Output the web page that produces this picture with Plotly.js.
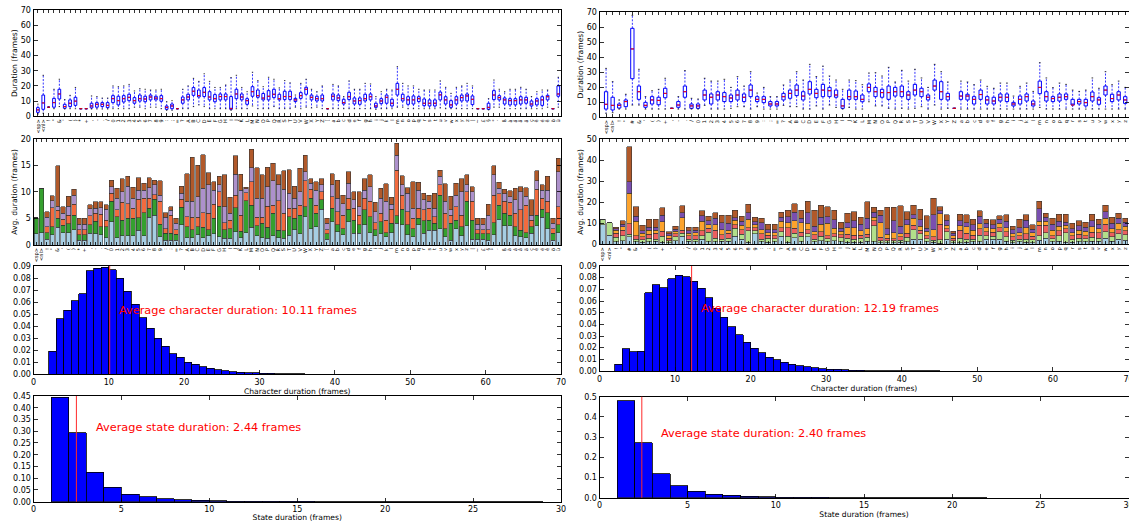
<!DOCTYPE html>
<html><head><meta charset="utf-8">
<script src="https://cdn.plot.ly/plotly-3.0.1.min.js"></script>
<style>html,body{margin:0;padding:0;overflow:hidden;background:#fff}#chart{width:1129px;height:522px}</style>
</head><body><div id="chart"></div>
<script>
// ---------- LEFT column data ----------
const leftLabels = ["<sp>","<nl>","!","\"","&","'","(",")","*","+",",","-",".","/","0","1","2","3","4","5","6","7","8","9",":",";","=","?","A","B","C","D","E","F","G","H","I","J","K","L","M","N","O","P","Q","R","S","T","U","V","W","X","Y","Z","[","a","b","c","d","e","f","g","h","i","j","k","l","m","n","o","p","q","r","s","t","u","v","w","x","y","z","|","~","£","§","°","´","ß","à","á","â","ä","ç","è","é","ê","ö","ü"];
const leftLo  = [1.5,2,6,5,6.4,4.8,5,5,5,5, 4.8,4.8,4.8,4.8,5,5,5,5,6,6, 5,6,6,5,4,4,5,5,5,6.4, 7.5,6.4,5,5,5,5,4,5,5,5, 6.8,5,5,5,6.4,5,5,5,6,5, 6,5.5,6,5,5,5,5,5,5,5, 5,5,5,4.6,5,5,5,6,6,5, 5,5,5,5,5,5.5,5,5,5,5, 5,5,5,5,4.2,6,6,5,5,5, 5,5,5,5,5,6,5,6];
const leftQ1  = [2.6,4.6,6,6,11.4,5.3,6.4,7.2,5,5, 5.5,6,6.4,5.7,9,7.5,9.4,10.3,8.6,10, 9.6,10.8,10.8,9.9,4.6,5,5,8.6,10.8,13.8, 12.7,13,10.8,9.6,10.8,10.8,4.6,11.6,10.8,7.9, 13.2,12.5,10.8,10.8,12.3,10.8,11,11,9.7,11.8, 14.5,10.8,10.1,10.1,5,10.8,10.3,8.1,11,8.1, 7.9,10.1,10.8,5.9,8.3,8.6,6.8,14,10.1,7.9, 8.1,9.7,7,6.8,6.8,10.8,8.1,5.9,8.1,10.1, 10.1,7.7,5,5,4.6,11,10.8,8.1,7.5,7.5, 8.1,8.6,6.8,7.5,7.2,10.8,5,13.2];
const leftMed = [4.2,8.8,6,9,14.7,6.4,8.6,10,5,5, 6.8,7.9,7.9,7.2,11.6,10.3,11.6,12.5,10.3,11.6, 11.4,12.7,12,11.6,5.9,6.8,5,10.8,12.7,16.5, 13.6,15.8,12.7,11.6,13,13,5,14.7,12.7,10.3, 16.2,13.6,12,13.2,14.5,11.6,13,13,10.8,13.6, 17.8,12.5,11.6,11.6,5,13.2,12.1,9,12.9,10.1, 10.3,11.6,12.9,6.8,10.1,12.5,8.6,17.8,11.6,10.8, 10.8,11.6,8.6,8.6,8.6,14.1,10.8,7.5,10.8,12.3, 13.4,11.2,5,5,5.9,14,12.3,10.8,10.3,10.3, 10.8,10.8,8.1,10.1,10.8,12.9,5,14.7];
const leftQ3  = [5.7,14,6,11.8,17.8,7.9,10.8,12.5,5,5, 8.6,9,9,9,13.6,13.2,13.6,14.5,12.3,14, 13.2,14,13.2,13.6,6.8,8.1,5,12.7,14.5,18.9, 17.3,18.9,16.2,14.3,14.7,14.7,13,17.8,14.7,11.6, 19.5,17.3,15,16.9,17.8,14.5,16.5,16.5,11.8,15.6, 19.1,14,13.2,14,5,14.7,14,11.2,15.8,12.1, 12.1,14.5,14.7,8.6,11.6,14,11.2,21.7,14.5,12.9, 13.4,12.9,11.4,10.8,10.8,16,12.9,10.3,12.9,14, 14.7,13.4,5,5,8.6,16.9,13.6,12.1,11.6,11.6, 12.9,12.5,10.1,11.6,12.9,13.8,5,20];
const leftHi  = [8,27,6,17.8,24.4,11,13.8,19,5,5, 13.4,13,12,12,20,19.5,20,21,16.7,18.2, 17.8,17.3,17.3,17.8,9.6,10.3,5,17.8,20,25, 23,28,23,19,19,20.6,25.5,27,19,16.2, 29,23.5,19.5,25.7,24.4,18.7,23.5,22,14,21.7, 24.4,17.8,16.2,20,5,21,20,13,23.3,17.8, 17.8,21.7,21.3,13,16.2,17.8,17.3,32.7,21.7,20, 20,17.8,17.3,17.3,17.3,23.3,19.1,15.1,19.1,20, 21.7,20,5,5,11.6,23.9,17.8,16.2,17.8,17.8, 19.1,17.8,13,16.2,17.3,17.3,5,25.7];

const leftState1 = [2.1,2.3,1.1,1.9,3.3,2.3,2.3,2.9,0.9,0.9, 2.2,2.1,1.9,1.4,4.4,1.4,1.7,1.7,1.7,2.8, 1.7,5.2,5.6,1.6,0.9,0.9,0.9,3.8,1.4,1.4, 1.9,1.4,1.7,2.1,1.6,1.3,1.3,2.5,1.4,2.3, 3.3,1.7,1.4,1.3,1.7,1.4,1.3,1.8,2.9,2.1, 5.3,3.1,3.4,6.7,1.1,4.4,2.5,1.9,4.4,2.2, 2.2,3.8,2.3,1.7,2.1,1.6,2.3,4.1,3.8,1.9, 1.6,3.8,2.2,2.8,2.8,3.1,1.6,0.9,3.1,1.7, 3.6,1.1,1.1,1.1,0.9,1.9,4.8,3.6,3.6,1.7, 1.6,1.4,2.2,3.6,5.2,3.1,0.9,2.3];
const leftState2 = [3.0,8.3,1.2,1.5,1.7,1.4,1.7,2.7,1.0,1.0, 1.6,2.4,1.5,2.0,3.8,3.9,3.0,3.3,3.3,2.3, 4.4,1.7,3.0,2.3,1.3,1.3,1.1,3.3,2.0,1.5, 1.5,1.9,1.2,2.9,5.7,1.6,1.8,4.5,1.2,6.0, 4.2,1.9,2.7,2.0,4.3,1.4,1.4,3.5,2.1,3.5, 1.9,5.7,2.6,1.8,1.0,2.5,1.3,1.2,2.3,2.5, 1.6,2.8,3.0,1.2,2.3,0.7,1.8,1.4,2.9,1.9, 1.5,1.2,2.4,1.9,1.3,6.3,1.5,3.2,1.6,1.7, 4.6,3.6,1.0,1.0,1.2,2.3,2.7,2.4,2.0,1.7, 1.2,0.9,1.2,2.0,1.5,3.0,1.3,1.5];
const leftState3 = [0,0,1.1,3.6,1.5,1.1,1.6,2.1,1.0,1.0, 1.7,1.5,2.4,1.3,1.5,1.3,3.3,2.8,1.9,3.5, 2.7,1.9,0.9,4.3,0.9,3.4,0.9,1.5,1.9,2.3, 1.8,2.8,3.1,2.7,2.7,1.3,1.6,2.4,3.0,1.5, 4.4,1.6,1.1,4.0,1.5,5.5,3.3,1.6,1.9,1.9, 4.9,1.7,1.5,1.5,0.8,2.2,2.5,2.5,2.1,2.2, 1.8,2.2,2.9,1.3,1.6,2.4,2.6,8.6,2.7,2.5, 1.9,1.9,2.0,2.2,1.2,1.9,2.9,1.5,2.5,2.2, 1.8,3.5,0.8,0.8,0.8,5.2,2.1,2.2,2.4,2.6, 3.8,5.2,1.3,4.9,2.1,2.1,0.9,3.4];
const leftState4 = [0,0,1.8,1.3,0.8,1.2,1.7,1.7,1.0,1.0, 1.3,0.9,1.2,2.0,1.3,2.2,2.0,3.3,1.9,1.7, 1.5,2.0,1.8,1.2,2.1,0.9,1.2,1.1,2.9,3.0, 3.9,4.6,5.3,2.6,1.3,3.0,1.3,3.9,4.7,0.8, 2.6,3.6,3.6,3.7,4.6,3.0,4.5,2.8,1.9,2.5, 1.7,1.1,2.8,1.3,1.2,2.2,2.5,2.2,2.8,1.6, 1.6,1.5,2.8,2.1,2.8,3.5,1.0,2.8,1.9,3.4, 1.9,3.4,1.9,1.3,1.6,1.6,2.2,1.0,2.2,4.4, 1.3,1.8,1.0,1.0,2.7,3.8,1.1,1.4,1.1,2.5, 3.4,1.7,0.9,1.6,1.5,2.1,1.0,6.6];
const leftState5 = [0,0,1.1,1.0,7.6,1.2,1.9,1.1,1.1,1.1, 0.8,1.2,1.1,0.9,1.2,1.9,2.5,1.8,2.1,2.4, 1.3,1.9,0.9,2.7,0.9,0.7,0.9,1.4,5.2,8.3, 5.9,6.3,2.3,1.6,1.6,6.0,3.0,3.5,3.0,0.3, 3.5,5.7,4.4,3.6,3.3,1.9,3.5,4.5,2.3,4.4, 3.1,0.9,1.6,1.2,0.9,2.1,3.4,1.6,2.2,1.5, 2.8,2.2,2.2,1.7,1.9,3.3,1.3,2.2,1.7,1.1, 5.0,1.5,1.2,1.2,2.8,1.2,3.3,2.6,2.2,2.5, 1.9,1.0,1.1,1.1,2.1,1.7,1.1,0.9,1.1,2.2, 1.0,1.6,2.9,1.9,1.0,2.6,0.9,2.5];

const leftCharBins = [2,3,4,5,6,7,8,9,10,11,12,13,14,15,16,17,18,19,20,21,22,23,24,25,26,27,28,29,30,31,32,33,34,35];
const leftCharVals = [0.019,0.046,0.053,0.061,0.067,0.086,0.088,0.089,0.087,0.080,0.069,0.058,0.047,0.038,0.030,0.023,0.017,0.014,0.010,0.008,0.006,0.0047,0.0035,0.0028,0.002,0.0015,0.0011,0.0009,0.0007,0.0005,0.0003,0.0002,0.0002,0.0001];
const leftAvgChar = 10.11;
const leftStateBins = [1,2,3,4,5,6,7,8,9,10,11,12,13,14,15,16,17,18,19,20,21,22,23,24,25,26,27,28];
const leftStateVals = [0.445,0.293,0.125,0.062,0.032,0.021,0.012,0.009,0.0065,0.005,0.003,0.0022,0.0017,0.0012,0.001,0.0008,0.0006,0.0005,0.0004,0.0003,0.0003,0.0002,0.0002,0.0001,0.00005,0.00005,0.00005,0.00005];
const leftAvgState = 2.44;

// ---------- RIGHT column data ----------
const rightLabels = ["<sp>","<nl>","!","\"","#","&","'","(",")","+",",","-",".","/","0","1","2","3","4","5","6","7","8","9",":",";","=","?","A","B","C","D","E","F","G","H","I","J","K","L","M","N","O","P","Q","R","S","T","U","V","W","X","Y","Z","a","b","c","d","e","f","g","h","i","j","k","l","m","n","o","p","q","r","s","t","u","v","w","x","y","z"];
const rightLo  = [2.5,2.9,5.3,5.3,8,8,5.3,5.3,5.3,5.3, 5.8,5.3,5.3,5.3,5.3,7.8,5.3,5.3,5.3,5.8, 6.9,6.9,5.3,6.9,5.3,5.3,5.3,7.8,6.9,6.9, 5.3,5.3,7.4,5.3,8,6.4,5.3,6.4,5.3,5.3, 10.2,7.4,7.4,5.8,5.3,5.8,5.3,5.8,6.9,5.3, 8,5.3,5.8,5.8,5.3,5.3,5.3,5.3,5.3,5.3, 5.3,5.3,5.3,5.3,5.3,5.3,6.4,5.3,5.3,5.3, 5.3,5.3,5.3,5.3,5.3,5.3,5.3,5.3,5.3,5.3];
const rightQ1  = [5.3,4.7,6,6.9,25.6,11.8,6.5,8.7,8.2,12.9, 5.8,6.5,13.2,5.8,5.8,11.4,8.7,11.4,10.3,10.3, 11.4,10.3,13.6,10.3,9.6,7.4,7.4,11.4,12.5,14.3, 11.4,15.4,12.9,13.6,13.6,13.2,5.8,11.8,11.8,10.2, 16.9,13.6,13.2,11.8,14,13.6,11.8,14.7,13.6,11.4, 18,11.8,11.4,5.8,11.8,11.4,8.7,11.8,8.7,8.7, 10.7,10.3,7.4,8.7,10.7,7.4,15.6,10.7,10.3,10.7, 11.8,8,8.7,7.4,10.7,8.5,14.7,10.3,11.4,9.1];
const rightMed = [8.5,7.8,7.8,10.3,45.5,16.9,7.8,11.4,11.1,15.8, 5.8,8,16.9,7.4,7.4,14.7,13.2,14.7,13.6,12.7, 14.7,13.2,18,11.8,11.8,8.7,8.7,13.6,15.8,18, 14,18.5,15.8,18,17.6,14.7,7.4,13.6,13.6,11.8, 19.8,16.9,16.3,16.3,16.9,16.9,14.7,18,16.9,13.2, 20.7,16.9,13.6,5.8,14,14,11.8,15,11.4,10.7, 13.2,13.2,8.7,11.8,13.6,8.7,19.8,13.6,12.3,13.2, 13.6,8,10.3,9.6,13.6,11.4,18,12.3,14.7,11.4];
const rightQ3  = [16.9,13.2,8.7,11.4,59.3,20.7,9.8,13.6,13.2,19.2, 5.8,10.3,20.7,8.7,8.7,18,15.4,16.9,16.3,14.7, 18,15.4,21.4,13.6,13.6,10.3,10.3,15.8,18,21.4, 16.9,23.6,18.5,21.8,19.8,18,11.8,18,17.4,14.7, 22.1,19.8,18.5,20.7,19.8,20.7,16.9,21.8,19.2,14.7, 24.7,23.6,15.8,5.8,16.9,15.2,13.6,18,13.6,13.2, 15.4,15.4,9.8,14,15.4,10.7,24,16.9,13.6,15.4, 15.4,11.8,11.8,11.8,16.7,12.9,20.7,15.2,16.9,13.6];
const rightHi  = [32.5,23.6,11.4,15.2,68,31.9,13.6,17.6,18.5,25.9, 5.8,13.6,31,12.5,12,25.9,24,24,25.2,19.8, 27,20.7,30.3,16,19.8,13.6,13.6,21.4,24.7,30.3, 24.7,35.2,27,34,27.4,24.7,18.5,24.7,24.3,21.6, 29.4,29.6,27.4,33.2,23.4,31.2,24,31.9,26.1,19.8, 35.2,30.3,23.4,5.8,24,23.4,21.6,24.7,20.5,19.2, 22.7,22.7,14,20.5,22.7,17.1,36.3,26.1,19.6,22.7, 21.8,18,17.1,18,26.1,19.2,30.3,21.6,24,19.8];

const rightState1 = [9.2,4.3,1.3,1.6,3.7,1.3,1.0,1.3,1.5,1.0, 0.8,1.8,3.8,1.5,1.3,2.5,1.3,1.3,1.5,1.5, 3.8,2.5,1.0,5.0,1.2,1.0,1.3,3.8,1.0,3.2, 1.3,3.5,1.3,1.8,1.3,1.8,1.3,1.0,1.0,1.0, 1.5,1.3,0.8,0.8,0.8,1.0,1.3,2.5,2.5,1.3, 1.0,0.6,2.5,0.8,0.8,1.0,1.3,1.3,2.5,2.5, 2.5,1.5,0.8,1.3,1.0,0.8,2.0,3.0,1.3,1.5, 1.0,1.0,1.3,1.3,1.5,1.5,3.0,1.5,2.5,2.0];
const rightState2 = [2.7,6.0,2.0,2.4,1.2,1.1,1.2,1.5,0.8,2.8, 0.8,1.9,1.5,1.0,1.2,1.5,4.5,1.5,1.0,1.3, 3.8,2.3,5.5,1.5,1.3,2.0,1.3,2.2,2.8,2.0, 2.5,1.5,1.2,2.0,1.3,1.8,1.8,1.8,1.3,1.8, 1.8,7.5,1.0,1.0,0.8,1.0,2.0,4.5,2.5,1.3, 1.0,1.5,3.5,0.8,2.0,1.3,1.0,3.0,1.5,1.3, 3.5,2.0,1.2,1.2,1.5,1.3,2.0,2.5,1.3,2.5, 4.5,1.5,1.5,1.3,1.8,1.5,3.0,2.0,2.5,2.5];
const rightState3 = [0,0,1.9,2.8,4.8,1.6,1.5,2.0,3.0,2.5, 1.2,1.4,1.3,1.5,1.5,2.5,1.8,4.0,2.0,2.5, 1.8,2.2,1.5,1.3,2.5,1.3,1.5,2.0,4.0,2.5, 2.0,2.0,2.0,2.2,1.5,1.5,1.5,2.0,2.0,1.5, 1.5,2.5,1.5,1.0,1.0,1.5,2.0,2.0,1.8,1.5, 1.5,7.5,1.5,1.2,4.0,3.0,2.0,3.0,2.0,2.0, 2.0,2.5,1.5,1.5,2.5,1.8,5.0,3.5,1.5,2.5, 2.0,1.5,2.0,1.5,2.5,2.5,3.5,2.0,2.0,2.0];
const rightState4 = [0,0,1.6,1.6,14.6,7.0,1.5,2.0,1.3,4.5, 1.2,1.0,6.0,1.3,1.4,4.5,1.8,2.5,2.5,1.3, 2.0,2.0,4.0,1.5,2.0,1.2,1.3,3.0,2.5,3.5, 4.5,3.0,1.5,3.5,6.0,2.5,1.5,3.0,3.5,2.2, 2.5,1.5,7.0,2.0,3.0,1.5,4.0,3.5,1.8,2.0, 3.5,5.0,1.5,1.2,2.0,3.0,2.5,2.5,2.0,1.5, 2.0,2.0,1.5,1.5,3.0,1.5,2.0,2.0,2.5,2.0, 1.5,1.5,2.0,2.0,2.5,2.0,3.0,2.0,3.0,2.0];
const rightState5 = [0,0,0.7,1.1,5.5,2.3,1.3,1.3,1.5,3.0, 1.0,1.0,2.5,1.2,1.2,2.5,1.8,3.2,3.2,3.5, 1.3,2.0,3.0,1.5,3.2,1.5,1.6,1.8,2.8,4.0, 2.2,5.0,2.5,3.5,3.0,4.0,1.5,2.5,3.5,3.0, 5.0,2.5,3.5,2.5,5.5,3.5,2.5,1.5,3.0,1.5, 7.0,1.3,2.5,1.2,2.5,2.0,2.5,3.5,2.0,2.0, 2.0,3.0,2.0,2.5,3.5,1.8,6.0,2.0,3.0,2.5, 1.5,2.0,2.0,2.0,3.0,2.0,3.0,2.5,2.5,2.0];
const rightState6 = [0,0,0.6,1.6,16.7,4.7,2.5,3.9,3.9,3.5, 1.0,1.6,3.2,1.6,1.5,2.4,2.1,2.5,3.7,3.8, 3.5,2.3,4.1,2.2,2.3,2.5,2.5,2.4,3.1,4.2, 3.7,5.4,7.7,5.5,4.9,4.6,3.0,4.5,4.3,3.4, 8.0,2.3,2.5,10.3,6.5,9.8,3.8,4.7,5.1,5.9, 7.9,2.0,2.5,1.1,3.1,3.7,2.6,2.6,1.9,2.3, 1.7,3.0,1.7,3.9,2.5,2.0,3.6,1.8,2.8,3.3, 3.8,2.5,2.3,2.5,3.1,2.4,3.1,2.9,2.3,1.9];

const rightCharBins = [2,3,4,5,6,7,8,9,10,11,12,13,14,15,16,17,18,19,20,21,22,23,24,25,26,27,28,29,30,31,32,33,34,35,36,37,38,39,40,41,42,43,44];
const rightCharVals = [0.006,0.019,0.0165,0.017,0.067,0.074,0.0715,0.079,0.082,0.081,0.077,0.071,0.063,0.054,0.046,0.038,0.031,0.0245,0.0195,0.0155,0.012,0.0095,0.0075,0.006,0.0045,0.0037,0.0028,0.0021,0.0017,0.0013,0.001,0.0008,0.0006,0.0004,0.0003,0.0002,0.0002,0.0001,0.0001,0.0001,0.00005,0.00005,0.00005];
const rightAvgChar = 12.19;
const rightStateBins = [1,2,3,4,5,6,7,8,9,10,11,12,13,14,15,16,17,18,19,20,21];
const rightStateVals = [0.48,0.273,0.118,0.059,0.031,0.018,0.011,0.007,0.005,0.003,0.0022,0.0015,0.001,0.0008,0.0006,0.0005,0.0004,0.0003,0.0002,0.0002,0.0001];
const rightAvgState = 2.40;

// ---------- styling ----------
const FONT = 'DejaVu Sans, sans-serif';
const W = 1129, H = 522;
const leftColors = ['#a6cee3','#35a02f','#f26b3f','#ad91cb','#b1592a'];
const rightColors = ['#a6cee3','#b2df8a','#ec5f5f','#fda32c','#7a4fb0','#b1592a'];
const esc = s => s.replace(/&/g,'&amp;').replace(/</g,'&lt;').replace(/>/g,'&gt;');
const px = (a,b) => [a/W, b/W];
const py = (top,bottom) => [1-bottom/H, 1-top/H];
const seq = n => Array.from({length:n}, (_,i)=>i+1);

function axis(dom, anchor, extra) {
  return Object.assign({
    domain: dom, anchor: anchor, showline: true, linecolor: '#000', linewidth: 1,
    mirror: 'ticks', ticks: 'inside', ticklen: 4, tickwidth: 0.8, tickcolor: '#000',
    showgrid: false, zeroline: false, fixedrange: true, ticklabeloverflow: 'allow',
    tickfont: {family: FONT, size: 8, color: '#000'}
  }, extra);
}
function ttl(t) { return {text: t, font: {family: FONT, size: 7.6, color: '#000'}, standoff: 2}; }

const traces = [];
function boxTraces(xa, ya, lo, q1, med, q3, hi) {
  const pos = seq(med.length);
  traces.push({type:'box', xaxis:xa, yaxis:ya, x:pos, q1:q1, median:med, q3:q3,
    lowerfence:q1, upperfence:q3, boxpoints:false, width:0.5, whiskerwidth:0,
    line:{color:'#0000ff', width:1}, fillcolor:'rgba(0,0,0,0)', hoverinfo:'skip', showlegend:false});
  const wx=[], wy=[], cx=[], cy=[], mx=[], my=[];
  pos.forEach((p,i)=>{
    wx.push(p,p,null,p,p,null); wy.push(q3[i],hi[i],null,q1[i],lo[i],null);
    cx.push(p-0.125,p+0.125,null,p-0.125,p+0.125,null); cy.push(hi[i],hi[i],null,lo[i],lo[i],null);
    mx.push(p-0.25,p+0.25,null); my.push(med[i],med[i],null);
  });
  traces.push({type:'scatter', mode:'lines', xaxis:xa, yaxis:ya, x:wx, y:wy,
    line:{color:'#0000ff', width:0.8, dash:'2px,1.5px'}, hoverinfo:'skip', showlegend:false});
  traces.push({type:'scatter', mode:'lines', xaxis:xa, yaxis:ya, x:cx, y:cy,
    line:{color:'#000', width:0.8}, hoverinfo:'skip', showlegend:false});
  traces.push({type:'scatter', mode:'lines', xaxis:xa, yaxis:ya, x:mx, y:my,
    line:{color:'#ff0000', width:1}, hoverinfo:'skip', showlegend:false});
}
function stackTraces(xa, ya, series, colors) {
  const pos = seq(series[0].length);
  series.forEach((s,k)=>traces.push({type:'bar', xaxis:xa, yaxis:ya, x:pos, y:s, width:0.8,
    marker:{color:colors[k], line:{color:'rgba(50,50,50,0.85)', width:0.7}}, hoverinfo:'skip', showlegend:false}));
}
function histTrace(xa, ya, bins, vals) {
  traces.push({type:'bar', xaxis:xa, yaxis:ya, x:bins, y:vals, width:1, offset:0,
    marker:{color:'#0000ff', line:{color:'#000', width:0.8}}, hoverinfo:'skip', showlegend:false});
}

boxTraces('x','y', leftLo, leftQ1, leftMed, leftQ3, leftHi);
stackTraces('x2','y2', [leftState1,leftState2,leftState3,leftState4,leftState5], leftColors);
histTrace('x3','y3', leftCharBins, leftCharVals);
histTrace('x4','y4', leftStateBins, leftStateVals);
boxTraces('x5','y5', rightLo, rightQ1, rightMed, rightQ3, rightHi);
stackTraces('x6','y6', [rightState1,rightState2,rightState3,rightState4,rightState5,rightState6], rightColors);
histTrace('x7','y7', rightCharBins, rightCharVals);
histTrace('x8','y8', rightStateBins, rightStateVals);

const LX = px(33.5, 561), RX = px(599.5, 1128.5);
const catTick = (labels) => ({tickmode:'array', tickvals: seq(labels.length), ticktext: labels.map(esc),
  tickangle:-90, ticklen:3, tickfont:{family: FONT, size: 5, color:'#000'}});

const layout = {
  width: W, height: H, margin:{l:0,r:0,t:0,b:0}, paper_bgcolor:'#fff', plot_bgcolor:'#fff',
  barmode:'stack', showlegend:false,
  xaxis:  axis(LX, 'y',  Object.assign({range:[0.18,98.5]}, catTick(leftLabels))),
  yaxis:  axis(py(10,116.3), 'x', {range:[0,70], dtick:10, title: ttl('Duration (frames)')}),
  xaxis2: axis(LX, 'y2', Object.assign({range:[0.5,98.5]}, catTick(leftLabels))),
  yaxis2: axis(py(138.7,245), 'x2', {range:[0,20], dtick:5, title: ttl('Avg. duration (frames)')}),
  xaxis3: axis(LX, 'y3', {range:[0,70], dtick:10, title: Object.assign(ttl('Character duration (frames)'),{standoff:1})}),
  yaxis3: axis(py(266,374), 'x3', {range:[0,0.09], dtick:0.01, tickformat:'.2f'}),
  xaxis4: axis(LX, 'y4', {range:[0,30], dtick:5, title: Object.assign(ttl('State duration (frames)'),{standoff:1})}),
  yaxis4: axis(py(396,501.7), 'x4', {range:[0,0.45], dtick:0.05, tickformat:'.2f'}),
  xaxis5: axis(RX, 'y5', Object.assign({range:[0,80.5]}, catTick(rightLabels))),
  yaxis5: axis(py(12.3,117), 'x5', {range:[0,70], dtick:10, title: ttl('Duration (frames)')}),
  xaxis6: axis(RX, 'y6', Object.assign({range:[0.5,80.5]}, catTick(rightLabels))),
  yaxis6: axis(py(139.3,244.3), 'x6', {range:[0,50], dtick:10, title: ttl('Avg. duration (frames)')}),
  xaxis7: axis(RX, 'y7', {range:[0,70], dtick:10, title: Object.assign(ttl('Character duration (frames)'),{standoff:1})}),
  yaxis7: axis(py(266,371), 'x7', {range:[0,0.09], dtick:0.01, tickformat:'.2f'}),
  xaxis8: axis(RX, 'y8', {range:[0,30], dtick:5, title: Object.assign(ttl('State duration (frames)'),{standoff:1})}),
  yaxis8: axis(py(396.7,497.7), 'x8', {range:[0,0.5], dtick:0.1, tickformat:'.1f'}),
  shapes: [], annotations: []
};

function avgMarker(xa, ya, avg, yText, label) {
  layout.shapes.push({type:'line', xref:xa, yref:ya+' domain', x0:avg, x1:avg, y0:0, y1:1,
    line:{color:'#ff2a2a', width:1}});
  layout.annotations.push({xref:xa, yref:ya, x:avg+1, y:yText, xanchor:'left', yanchor:'middle', yshift:4,
    showarrow:false, text: label + avg.toFixed(2) + ' frames',
    font:{family:FONT, size:11.3, color:'#ff0000'}});
}
avgMarker('x3','y3', leftAvgChar, 0.05, 'Average character duration: ');
avgMarker('x4','y4', leftAvgState, 0.3, 'Average state duration: ');
avgMarker('x7','y7', rightAvgChar, 0.05, 'Average character duration: ');
avgMarker('x8','y8', rightAvgState, 0.3, 'Average state duration: ');

Plotly.newPlot('chart', traces, layout, {staticPlot:true, displayModeBar:false});
</script></body></html>
